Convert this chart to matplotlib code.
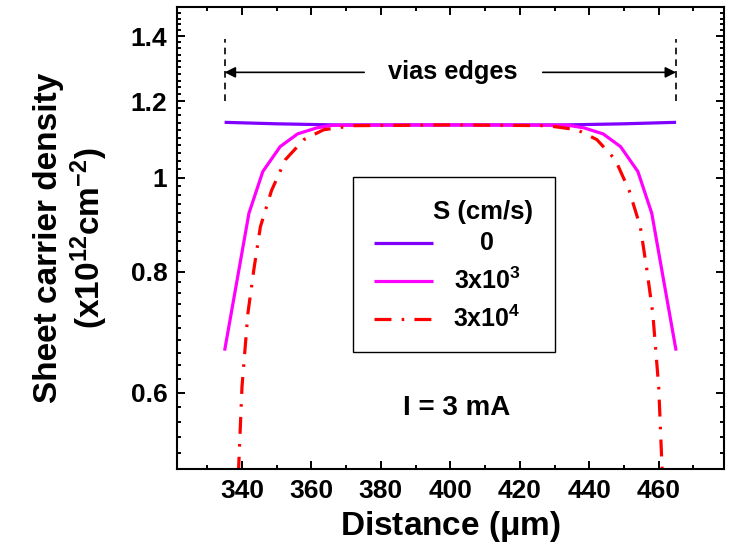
import numpy as np
import matplotlib
matplotlib.use("Agg")
import matplotlib.pyplot as plt
from matplotlib.ticker import FixedLocator, NullFormatter, MultipleLocator
from matplotlib.lines import Line2D
from matplotlib.patches import Rectangle

plt.rcParams["font.family"] = ["Liberation Sans", "DejaVu Sans"]
plt.rcParams["font.weight"] = "bold"
plt.rcParams["mathtext.fontset"] = "custom"
plt.rcParams["mathtext.rm"] = "Liberation Sans:bold"
plt.rcParams["mathtext.it"] = "Liberation Sans:bold"
plt.rcParams["mathtext.bf"] = "Liberation Sans:bold"

# Sheet carrier density (1e12 cm^-2) along the channel for three surface velocities
x_s0 = [335, 350, 367, 400, 433, 450, 465]
n_s0 = [1.141, 1.137, 1.134, 1.134, 1.134, 1.137, 1.141]

x_s3e3 = [335, 342, 346, 351, 356, 361.5, 366, 400, 434, 438.5, 444, 449, 454, 458, 465]
n_s3e3 = [0.663, 0.919, 1.015, 1.077, 1.110, 1.126, 1.133, 1.134,
          1.133, 1.126, 1.110, 1.077, 1.015, 0.919, 0.663]

x_s3e4 = [338.5, 340, 341.7, 343.4, 345.3, 348.5, 352.5, 357.8, 363.5, 372,
          400, 428, 436.5, 442.2, 447.5, 451.5, 454.7, 456.6, 458.3, 460, 461.5]
n_s3e4 = [0.45, 0.608, 0.724, 0.803, 0.890, 0.970, 1.044, 1.095, 1.121, 1.132,
          1.134, 1.132, 1.121, 1.095, 1.044, 0.970, 0.890, 0.803, 0.724, 0.608, 0.45]

legend_title = "S (cm/s)"
legend_labels = ["0", r"3x10$^3$", r"3x10$^4$"]
colors = ["#8000FF", "#FF00FF", "#FF0000"]

via_left, via_right = 335, 465
via_span = [1.2, 1.39]
arrow_y = 1.285
x_ticks = [340, 360, 380, 400, 420, 440, 460]
y_ticks = [0.6, 0.8, 1.0, 1.2, 1.4]
y_tick_labels = ["0.6", "0.8", "1", "1.2", "1.4"]

fig = plt.figure(figsize=(7.3, 5.52), dpi=100)
ax = fig.add_axes([0.2425, 0.1498, 0.9918 - 0.2425, 0.9868 - 0.1498])

dashdot = (0, (5.3, 3.2, 0.8, 3.2))
ax.plot(x_s0, n_s0, color=colors[0], lw=2.3, solid_capstyle="butt")
ax.plot(x_s3e3, n_s3e3, color=colors[1], lw=2.3, solid_capstyle="butt")
ax.plot(x_s3e4, n_s3e4, color=colors[2], lw=2.3, linestyle=dashdot)

# via edge markers and arrows
for xv in (via_left, via_right):
    ax.plot([xv, xv], via_span, color="black", lw=1.2, linestyle=(0, (4, 3)))
ax.annotate("", xy=(via_left, arrow_y), xytext=(375.2, arrow_y),
            arrowprops=dict(arrowstyle="-|>", color="black", lw=1.2,
                            mutation_scale=16, shrinkA=0, shrinkB=0))
ax.annotate("", xy=(via_right, arrow_y), xytext=(426.6, arrow_y),
            arrowprops=dict(arrowstyle="-|>", color="black", lw=1.2,
                            mutation_scale=16, shrinkA=0, shrinkB=0))
ax.text(400.8, arrow_y, "vias edges", ha="center", va="center",
        fontsize=18.3, fontweight="bold")

ax.text(0.511, 0.132, "I = 3 mA", transform=ax.transAxes, ha="center",
        va="center", fontsize=20, fontweight="bold")

# legend box
ax.add_patch(Rectangle((0.3218, 0.2545), 0.691 - 0.3218, 0.632 - 0.2545,
                       transform=ax.transAxes, fill=False, lw=1.0,
                       edgecolor="black", zorder=5))
ax.text(0.5594, 0.5576, legend_title, transform=ax.transAxes, ha="center",
        va="center", fontsize=18.5, fontweight="bold")
styles = ["-", "-", dashdot]
ys = [0.4905, 0.4076, 0.3247]
for c, st, yy, lab in zip(colors, styles, ys, legend_labels):
    ax.add_line(Line2D([0.360, 0.468], [yy, yy], transform=ax.transAxes,
                       color=c, lw=2.3, linestyle=st, solid_capstyle="butt"))
    ax.text(0.567, yy, lab, transform=ax.transAxes, ha="center", va="center",
            fontsize=18, fontweight="bold")

ax.set_yscale("log")
ax.set_xlim(321.3, 478.8)
ax.set_ylim(0.5, 1.5)
ax.xaxis.set_major_locator(FixedLocator(x_ticks))
ax.xaxis.set_minor_locator(MultipleLocator(10))
ax.yaxis.set_major_locator(FixedLocator(y_ticks))
ax.set_yticklabels(y_tick_labels)
minors = [round(v, 2) for v in np.arange(0.52, 1.5, 0.02)
          if all(abs(v - t) > 1e-6 for t in y_ticks)]
ax.yaxis.set_minor_locator(FixedLocator(minors))
ax.yaxis.set_minor_formatter(NullFormatter())

ax.tick_params(which="both", direction="in", top=True, right=True, width=1.4)
ax.tick_params(which="major", length=5.8, labelsize=19, pad=7)
ax.tick_params(which="minor", length=3.2)
for lab in ax.get_xticklabels() + ax.get_yticklabels():
    lab.set_fontweight("bold")
for sp in ax.spines.values():
    sp.set_linewidth(1.5)

ax.set_xlabel(r"Distance ($\mathrm{\mu}$m)", fontsize=24, fontweight="bold",
              labelpad=4)
ax.set_ylabel("Sheet carrier density\n" + r"(x10$^{12}$cm$^{-2}$)",
              fontsize=24, fontweight="bold", labelpad=15, linespacing=1.12)

fig.savefig("out.png", dpi=100)
